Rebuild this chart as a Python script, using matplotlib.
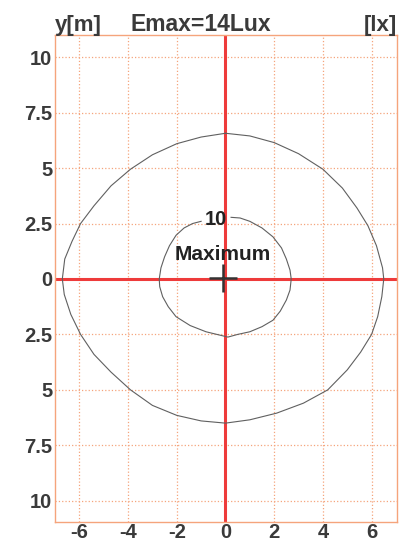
import matplotlib

matplotlib.use("Agg")
import matplotlib.pyplot as plt

# Isolux contours (x, y in metres)
outer_x = [0, 1.0, 2.0, 3.0, 4.0, 4.8, 5.4, 5.85, 6.2, 6.45, 6.5, 6.42, 6.25, 6.0, 5.55, 5.0, 4.2,
           3.2, 2.1, 1.0, 0, -1.0, -2.0, -3.0, -3.9, -4.7, -5.4, -5.95, -6.35, -6.62, -6.7, -6.6,
           -6.3, -5.95, -5.4, -4.7, -3.9, -3.0, -2.0, -1.0, 0]
outer_y = [6.57, 6.45, 6.15, 5.65, 4.95, 4.1, 3.2, 2.4, 1.5, 0.5, 0, -0.8, -1.7, -2.5, -3.3, -4.1,
           -5.0, -5.6, -6.05, -6.35, -6.5, -6.4, -6.15, -5.7, -5.0, -4.2, -3.4, -2.5, -1.6, -0.7,
           0, 0.9, 1.7, 2.5, 3.3, 4.2, 4.95, 5.6, 6.1, 6.4, 6.57]

inner_x = [0.23, 0.6, 1.0, 1.5, 1.95, 2.3, 2.5, 2.65, 2.7, 2.65, 2.5, 2.25, 1.95, 1.5, 1.0, 0.5,
           0.1, -0.35, -0.8, -1.45, -2.03, -2.35, -2.58, -2.7, -2.72, -2.65, -2.5, -2.3, -2.03,
           -1.7, -1.35, -1.0]
inner_y = [2.78, 2.75, 2.6, 2.3, 1.9, 1.4, 0.9, 0.4, 0, -0.5, -0.95, -1.45, -1.86, -2.15, -2.38,
           -2.5, -2.62, -2.5, -2.38, -2.1, -1.7, -1.25, -0.8, -0.35, 0, 0.5, 1.0, 1.5, 1.97, 2.3,
           2.5, 2.6]
inner_label = "10"
inner_label_pos = (-0.38, 2.7)

max_pos = (-0.1, 0.05)
emax_text = "Emax=14Lux"

x_ticks = [-6, -4, -2, 0, 2, 4, 6]
y_ticks = [-10, -7.5, -5, -2.5, 0, 2.5, 5, 7.5, 10]
y_ticklabels = ["10", "7.5", "5", "2.5", "0", "2.5", "5", "7.5", "10"]

orange = "#f5a47c"
red = "#ee3b3b"
txt = "#3a3a3a"
font = ["Liberation Sans", "DejaVu Sans"]

fig = plt.figure(figsize=(4.03, 5.43), dpi=100)
ax = fig.add_axes([0.1365, 0.039, 0.849, 0.8965])

ax.set_xlim(-7.0, 7.05)
ax.set_ylim(-10.95, 11.0)
ax.set_xticks(x_ticks)
ax.set_yticks(y_ticks)
ax.set_xticklabels([str(t) for t in x_ticks], family=font, fontsize=14.5, color=txt,
                   fontweight="bold")
ax.set_yticklabels(y_ticklabels, family=font, fontsize=14.5, color=txt, fontweight="bold")
ax.tick_params(axis="x", length=0, pad=0.5)
ax.tick_params(axis="y", length=0, pad=2)
ax.grid(True, color=orange, ls=":", lw=0.9)
for s in ax.spines.values():
    s.set_color(orange)
    s.set_linewidth(1.0)

ax.axhline(0, color=red, lw=2.2, zorder=2)
ax.axvline(0, color=red, lw=2.2, zorder=2)

ax.plot(outer_x, outer_y, color="#606060", lw=0.8, zorder=3)
ax.plot(inner_x, inner_y, color="#606060", lw=0.8, zorder=3)
ax.text(*inner_label_pos, inner_label, family=font, fontsize=14.5, color="#222222",
        fontweight="bold", ha="center", va="center", zorder=4)

ax.plot(*max_pos, marker="+", ms=20, mew=1.8, color="#333333", zorder=4)
ax.text(-0.1, 1.12, "Maximum", family=font, fontsize=15, color="#222222", fontweight="bold",
        ha="center", va="center", zorder=4)

fig.text(55 / 403, 1 - 31 / 543, "y[m]", family=font, fontsize=16, color=txt,
         fontweight="bold", ha="left", va="baseline")
fig.text(130 / 403, 1 - 31 / 543, emax_text, family=font, fontsize=16.5, color=txt,
         fontweight="bold", ha="left", va="baseline")
fig.text(397 / 403, 1 - 31 / 543, "[lx]", family=font, fontsize=16, color=txt,
         fontweight="bold", ha="right", va="baseline")

fig.savefig("out.png", dpi=100)
